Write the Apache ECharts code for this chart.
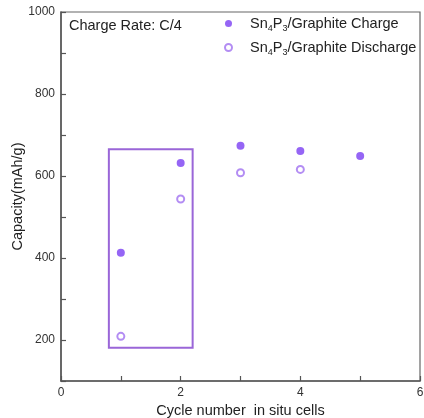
<!DOCTYPE html>
<html>
<head>
<meta charset="utf-8">
<script src="https://cdn.jsdelivr.net/npm/echarts@6/dist/echarts.min.js"></script>
<style>
  html, body { margin: 0; padding: 0; background: #fff; }
  #chart { width: 424px; height: 418px; }
</style>
</head>
<body>
<div id="chart"></div>
<script>
// Cycle numbers and capacities (mAh/g)
const chargeCycles = [1, 2, 3, 4, 5];
const chargeCapacity = [413, 632, 674, 661, 649];
const dischargeCycles = [1, 2, 3, 4];
const dischargeCapacity = [209, 544, 608, 616];

// Highlight box around the first two cycles: [x0, y0] to [x1, y1]
const boxCorner1 = [0.8, 665];
const boxCorner2 = [2.2, 181];

const seriesNames = ['Sn4P3/Graphite Charge', 'Sn4P3/Graphite Discharge'];
const legendRich = {
  'Sn4P3/Graphite Charge': '{f|Sn}{s|4}{n|P}{s|3}{n|/Graphite Charge}',
  'Sn4P3/Graphite Discharge': '{f|Sn}{s|4}{n|P}{s|3}{n|/Graphite Discharge}'
};

const FONT = '"Liberation Sans", Arial, Helvetica, sans-serif';
const chart = echarts.init(document.getElementById('chart'));

const toPairs = (xs, ys) => xs.map((x, i) => [x, ys[i]]);

chart.setOption({
  animation: false,
  backgroundColor: '#ffffff',
  textStyle: { fontFamily: FONT },
  title: {
    text: 'Charge Rate: C/4',
    left: 64, top: 13,
    textStyle: { fontFamily: FONT, fontSize: 14.5, fontWeight: 'normal', color: '#222' }
  },
  legend: {
    data: [
      { name: seriesNames[0], icon: 'circle' },
      { name: seriesNames[1], icon: 'emptyCircle' }
    ],
    orient: 'vertical',
    left: 224, top: 14,
    padding: 0,
    itemWidth: 7, itemHeight: 7, itemGap: 5,
    formatter: name => legendRich[name],
    textStyle: {
      fontFamily: FONT, color: '#222',
      rich: {
        f: { fontFamily: FONT, fontSize: 14.5, color: '#222', lineHeight: 17, padding: [0, 0, 0, 13] },
        n: { fontFamily: FONT, fontSize: 14.5, color: '#222', lineHeight: 17 },
        s: { fontFamily: FONT, fontSize: 9, color: '#222', lineHeight: 17, padding: [10, 0, 0, 0] }
      }
    }
  },
  grid: {
    left: 61, right: 4, top: 12, bottom: 37,
    outerBoundsMode: 'none', containLabel: false,
    show: true, borderColor: '#666', borderWidth: 1.2
  },
  xAxis: {
    type: 'value', min: 0, max: 6, interval: 1,
    name: 'Cycle number  in situ cells',
    nameLocation: 'middle', nameGap: 22, nameMoveOverlap: false,
    nameTextStyle: { fontFamily: FONT, fontSize: 14.5, color: '#222' },
    axisLine: { show: true, onZero: false, lineStyle: { color: '#555', width: 1.5 } },
    axisTick: { show: true, inside: true, length: 5, lineStyle: { color: '#555', width: 1.2 } },
    axisLabel: {
      fontFamily: FONT, fontSize: 12, color: '#333', margin: 6,
      formatter: v => (v % 2 === 0 ? String(v) : '')
    },
    splitLine: { show: false }
  },
  yAxis: {
    type: 'value', min: 100, max: 1000, interval: 100,
    name: 'Capacity(mAh/g)',
    nameLocation: 'middle', nameGap: 36, nameMoveOverlap: false,
    nameTextStyle: { fontFamily: FONT, fontSize: 14.5, color: '#222' },
    axisLine: { show: true, onZero: false, lineStyle: { color: '#555', width: 1.5 } },
    axisTick: { show: true, inside: true, length: 5, lineStyle: { color: '#555', width: 1.2 } },
    axisLabel: {
      fontFamily: FONT, fontSize: 12, color: '#333', margin: 6,
      formatter: v => (v % 200 === 0 ? String(v) : '')
    },
    splitLine: { show: false }
  },
  series: [
    {
      name: seriesNames[0],
      type: 'scatter',
      symbol: 'circle',
      symbolSize: 8,
      itemStyle: { color: '#7b3ff2' },
      data: toPairs(chargeCycles, chargeCapacity),
      markArea: {
        silent: true,
        itemStyle: { color: 'rgba(0,0,0,0)', borderColor: '#9a66d8', borderWidth: 2 },
        data: [[{ coord: boxCorner1 }, { coord: boxCorner2 }]]
      },
      z: 3
    },
    {
      name: seriesNames[1],
      type: 'scatter',
      symbol: 'emptyCircle',
      symbolSize: 7,
      itemStyle: { color: '#a070f0', borderWidth: 1.5 },
      data: toPairs(dischargeCycles, dischargeCapacity),
      z: 3
    }
  ]
});
</script>
</body>
</html>
